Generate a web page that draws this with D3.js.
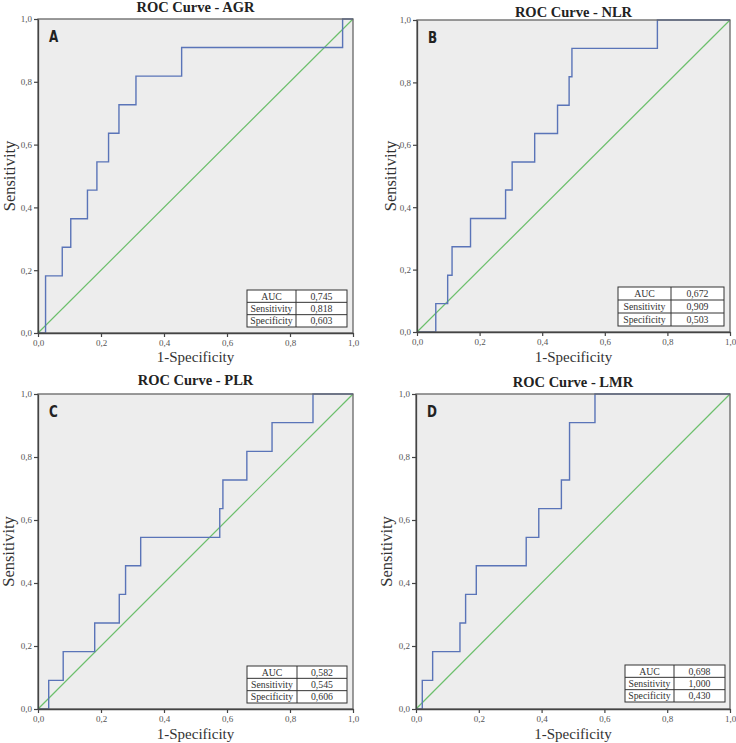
<!DOCTYPE html>
<html><head><meta charset="utf-8">
<script src="https://cdn.jsdelivr.net/npm/d3@7"></script>
<style>
html,body{margin:0;padding:0;background:#fff;}
svg{display:block;}
</style></head>
<body>
<svg id="chart" width="736" height="743"></svg>
<script>
// ---- data ----
const panelTitles = ["ROC Curve - AGR", "ROC Curve - NLR", "ROC Curve - PLR", "ROC Curve - LMR"];
const panelLetters = ["A", "B", "C", "D"];
// 1-specificity at which sensitivity jumps to the next level
const fprAGR = [0.024, 0.077, 0.104, 0.157, 0.187, 0.224, 0.257, 0.311, 0.456, 0.967];
const sensAGR = [0.182, 0.273, 0.364, 0.455, 0.545, 0.636, 0.727, 0.818, 0.909, 1.0];
const fprNLR = [0.060, 0.098, 0.112, 0.171, 0.283, 0.304, 0.376, 0.449, 0.486, 0.495, 0.768];
const sensNLR = [0.091, 0.182, 0.273, 0.364, 0.455, 0.545, 0.636, 0.727, 0.818, 0.909, 1.0];
const fprPLR = [0.034, 0.080, 0.180, 0.258, 0.278, 0.326, 0.577, 0.587, 0.663, 0.743, 0.873];
const sensPLR = [0.091, 0.182, 0.273, 0.364, 0.455, 0.545, 0.636, 0.727, 0.818, 0.909, 1.0];
const fprLMR = [0.020, 0.053, 0.140, 0.158, 0.192, 0.351, 0.391, 0.463, 0.489, 0.570];
const sensLMR = [0.091, 0.182, 0.273, 0.364, 0.455, 0.545, 0.636, 0.727, 0.909, 1.0];
const tableLabels = ["AUC", "Sensitivity", "Specificity"];
const tableAGR = ["0,745", "0,818", "0,603"];
const tableNLR = ["0,672", "0,909", "0,503"];
const tablePLR = ["0,582", "0,545", "0,606"];
const tableLMR = ["0,698", "1,000", "0,430"];
const tickValues = [0, 0.2, 0.4, 0.6, 0.8, 1.0];
const tickLabels = ["0,0", "0,2", "0,4", "0,6", "0,8", "1,0"];

const panels = [
  {fpr: fprAGR, sens: sensAGR, table: tableAGR, box: {x0: 38, x1: 353, y0: 19, y1: 333}, titleY: 11.5, ylabX: 15, xlabY: 362,
   tbl: {x0: 247, x1: 347, y0: 290, y1: 327, split: 296}},
  {fpr: fprNLR, sens: sensNLR, table: tableNLR, box: {x0: 417, x1: 730, y0: 20, y1: 332}, titleY: 17, ylabX: 396, xlabY: 362,
   tbl: {x0: 618, x1: 724, y0: 287, y1: 326, split: 671}},
  {fpr: fprPLR, sens: sensPLR, table: tablePLR, box: {x0: 38, x1: 353, y0: 394, y1: 709}, titleY: 385, ylabX: 14, xlabY: 738.5,
   tbl: {x0: 247, x1: 347, y0: 666, y1: 703, split: 297}},
  {fpr: fprLMR, sens: sensLMR, table: tableLMR, box: {x0: 416, x1: 730, y0: 394, y1: 709}, titleY: 387, ylabX: 392, xlabY: 738.5,
   tbl: {x0: 625, x1: 725, y0: 665, y1: 702, split: 674}}
];

const svg = d3.select("#chart");
const serif = "'Liberation Serif','DejaVu Serif',serif";

panels.forEach((p, i) => {
  const b = p.box;
  const x = d3.scaleLinear().domain([0, 1]).range([b.x0, b.x1]);
  const y = d3.scaleLinear().domain([0, 1]).range([b.y1, b.y0]);
  const g = svg.append("g");

  g.append("rect").attr("x", b.x0).attr("y", b.y0).attr("width", b.x1 - b.x0).attr("height", b.y1 - b.y0)
    .attr("fill", "#ededed").attr("stroke", "none");

  // diagonal reference
  g.append("line").attr("x1", x(0)).attr("y1", y(0)).attr("x2", x(1)).attr("y2", y(1))
    .attr("stroke", "#6cbf6c").attr("stroke-width", 1.2);

  // ROC step curve
  const pts = [[0, 0]];
  let prev = 0;
  p.fpr.forEach((f, k) => {
    pts.push([f, prev]);
    pts.push([f, p.sens[k]]);
    prev = p.sens[k];
  });
  pts.push([1, 1]);
  const line = d3.line().x(d => x(d[0])).y(d => y(d[1]));
  g.append("path").attr("d", line(pts)).attr("fill", "none").attr("stroke", "#5a74b8").attr("stroke-width", 1.4);

  // border
  g.append("rect").attr("x", b.x0).attr("y", b.y0).attr("width", b.x1 - b.x0).attr("height", b.y1 - b.y0)
    .attr("fill", "none").attr("stroke", "#666").attr("stroke-width", 1.3);

  // axes
  const xa = d3.axisBottom(x).tickValues(tickValues).tickFormat((d, k) => tickLabels[k]).tickSize(4).tickSizeOuter(0);
  const ya = d3.axisLeft(y).tickValues(tickValues).tickFormat((d, k) => tickLabels[k]).tickSize(4).tickSizeOuter(0);
  const gx = g.append("g").attr("transform", `translate(0,${b.y1})`).call(xa);
  const gy = g.append("g").attr("transform", `translate(${b.x0},0)`).call(ya);
  [gx, gy].forEach(ax => {
    ax.select(".domain").attr("stroke", "#444").attr("stroke-width", 1.3);
    ax.selectAll(".tick line").attr("stroke", "#444").attr("stroke-width", 1.2);
    ax.selectAll(".tick text").attr("font-family", serif).attr("font-size", 9).attr("fill", "#555");
  });
  gx.selectAll(".tick text").attr("dy", "0.71em");
  gy.selectAll(".tick text").attr("dx", "0.1em");

  // title
  g.append("text").attr("x", (b.x0 + b.x1) / 2).attr("y", p.titleY).attr("text-anchor", "middle")
    .attr("font-family", serif).attr("font-weight", "bold").attr("font-size", 14.5).attr("fill", "#222")
    .text(panelTitles[i]);

  // letter (condensed look)
  g.append("text").attr("transform", `translate(${b.x0 + 11},${b.y0 + 23}) scale(0.8,1)`)
    .attr("font-family", "'DejaVu Sans',sans-serif")
    .attr("font-weight", "bold").attr("font-size", 15).attr("fill", "#222").text(panelLetters[i]);

  // axis labels
  g.append("text").attr("x", (b.x0 + b.x1) / 2).attr("y", p.xlabY).attr("text-anchor", "middle")
    .attr("font-family", serif).attr("font-size", 15).attr("fill", "#333").text("1-Specificity");
  g.append("text").attr("transform", `translate(${p.ylabX},${(b.y0 + b.y1) / 2}) rotate(-90)`)
    .attr("text-anchor", "middle").attr("font-family", serif).attr("font-size", 16.5).attr("fill", "#333")
    .text("Sensitivity");

  // table
  const t = p.tbl;
  const rh = (t.y1 - t.y0) / 3;
  const tg = g.append("g");
  tg.append("rect").attr("x", t.x0).attr("y", t.y0).attr("width", t.x1 - t.x0).attr("height", t.y1 - t.y0)
    .attr("fill", "#fff").attr("stroke", "#333").attr("stroke-width", 1);
  tg.append("line").attr("x1", t.split).attr("x2", t.split).attr("y1", t.y0).attr("y2", t.y1)
    .attr("stroke", "#333").attr("stroke-width", 1);
  [1, 2].forEach(r => tg.append("line").attr("x1", t.x0).attr("x2", t.x1)
    .attr("y1", t.y0 + r * rh).attr("y2", t.y0 + r * rh).attr("stroke", "#333").attr("stroke-width", 1));
  tableLabels.forEach((lab, r) => {
    tg.append("text").attr("x", (t.x0 + t.split) / 2).attr("y", t.y0 + r * rh + rh / 2 + 3.4)
      .attr("text-anchor", "middle").attr("font-family", serif).attr("font-size", 9.8).attr("fill", "#333").text(lab);
    tg.append("text").attr("x", (t.split + t.x1) / 2).attr("y", t.y0 + r * rh + rh / 2 + 3.4)
      .attr("text-anchor", "middle").attr("font-family", serif).attr("font-size", 9.8).attr("fill", "#333").text(p.table[r]);
  });
});
</script>
</body></html>
